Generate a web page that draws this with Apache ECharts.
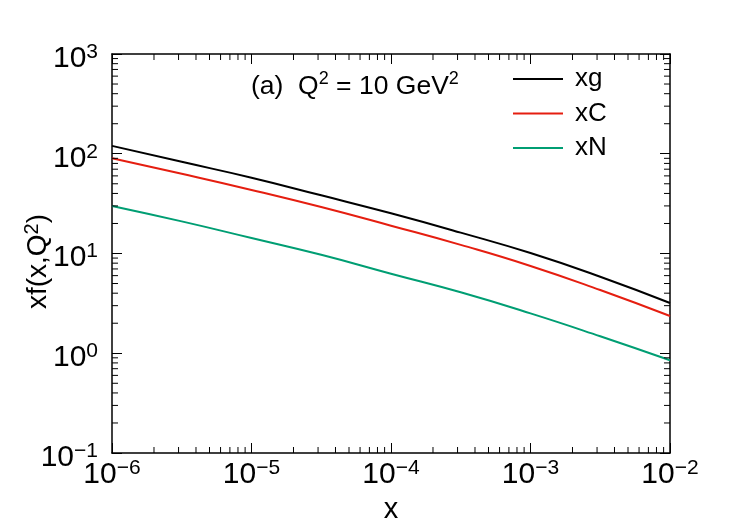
<!DOCTYPE html>
<html>
<head>
<meta charset="utf-8">
<script src="https://cdn.jsdelivr.net/npm/echarts@6/dist/echarts.min.js"></script>
<style>
html,body{margin:0;padding:0;background:#fff}
#main{width:747px;height:528px}
</style>
</head>
<body>
<div id="main"></div>
<script>
// values
var xVals = [1e-6, 3.16e-6, 1e-5, 3.16e-5, 1e-4, 3.16e-4, 1e-3, 3.16e-3, 1e-2];
var xg = [120, 83, 57.5, 38.3, 25.3, 16.2, 10.1, 5.85, 3.19];
var xC = [90, 63, 43.4, 29.2, 19, 12.2, 7.5, 4.3, 2.36];
var xN = [30, 21, 14.3, 9.7, 6.27, 4.08, 2.51, 1.48, 0.85];
var seriesNames = ['xg', 'xC', 'xN'];
var seriesColors = ['#000000', '#e51e10', '#009e73'];
var xRange = [1e-6, 1e-2];
var yRange = [1e-1, 1e3];

var FONT = 'Liberation Sans';

// minor ticks 2..9 per decade
var xMinor = [], yMinor = [];
for (var n = -6; n < -2; n++) for (var k = 2; k < 10; k++) xMinor.push(k * Math.pow(10, n));
for (var m = -1; m < 3; m++) for (var j = 2; j < 10; j++) yMinor.push(j * Math.pow(10, m));

function powLabel(v) {
    var e = Math.round(Math.log10(v));
    return '{b|10}{s|' + (e < 0 ? '\u2212' + (-e) : e) + '}';
}
var labelRich = {
    b: {fontSize: 30, fontFamily: FONT, color: '#000', lineHeight: 32, verticalAlign: 'bottom'},
    s: {fontSize: 21, fontFamily: FONT, color: '#000', lineHeight: 12, verticalAlign: 'top'}
};

function pairs(ys) {
    return xVals.map(function (x, i) { return [x, ys[i]]; });
}

var tick = {show: true, inside: true, length: 10, lineStyle: {color: '#000', width: 1}};
var line = {show: true, lineStyle: {color: '#000', width: 1.5}};

var chart = echarts.init(document.getElementById('main'));

var option = {
    animation: false,
    backgroundColor: '#fff',
    grid: {left: 112, right: 77, top: 54, bottom: 75, containLabel: false, outerBoundsMode: 'none'},
    legend: {
        data: seriesNames,
        orient: 'vertical',
        left: 513, top: 66, padding: 0,
        icon: 'rect',
        itemWidth: 50, itemHeight: 2, itemGap: 8.5,
        textStyle: {fontSize: 26, fontFamily: FONT, color: '#000', lineHeight: 24, padding: [0, 0, 0, 7]}
    },
    graphic: [{
        type: 'text', left: 251, top: 70,
        style: {
            text: '{t|(a)  Q}{s|2}{t| = 10 GeV}{s|2}',
            rich: {
                t: {fontSize: 26.5, fontFamily: FONT, fill: '#000', lineHeight: 30, verticalAlign: 'bottom'},
                s: {fontSize: 18, fontFamily: FONT, fill: '#000', lineHeight: 10, verticalAlign: 'top'}
            }
        }
    }],
    xAxis: [{
        type: 'log', logBase: 10, min: xRange[0], max: xRange[1],
        name: 'x', nameLocation: 'middle', nameGap: 42, nameMoveOverlap: false,
        nameTextStyle: {fontSize: 29, fontFamily: FONT, color: '#000'},
        axisLine: line, axisTick: tick,
        axisLabel: {formatter: powLabel, rich: labelRich, margin: 5},
        splitLine: {show: false}
    }, {
        type: 'log', logBase: 10, min: xRange[0], max: xRange[1], position: 'top',
        axisLine: line, axisTick: tick,
        axisLabel: {show: false},
        splitLine: {show: false}
    }],
    yAxis: [{
        type: 'log', logBase: 10, min: yRange[0], max: yRange[1],
        name: '{n|xf(x,Q}{ns|2}{n|)}', nameLocation: 'middle', nameGap: 60, nameMoveOverlap: false,
        nameTextStyle: {
            padding: [0, 16, 0, 0],
            rich: {
                n: {fontSize: 28, fontFamily: FONT, color: '#000', lineHeight: 30, verticalAlign: 'bottom'},
                ns: {fontSize: 20, fontFamily: FONT, color: '#000', lineHeight: 10, verticalAlign: 'top'}
            }
        },
        axisLine: line, axisTick: tick,
        axisLabel: {formatter: powLabel, rich: labelRich, margin: 14, padding: [7, 0, 0, 0]},
        splitLine: {show: false}
    }, {
        type: 'log', logBase: 10, min: yRange[0], max: yRange[1], position: 'right',
        axisLine: line, axisTick: tick,
        axisLabel: {show: false},
        splitLine: {show: false}
    }],
    series: [
        {name: 'xg', type: 'line', data: pairs(xg), smooth: true, symbol: 'none', lineStyle: {color: seriesColors[0], width: 2}, itemStyle: {color: seriesColors[0]}},
        {name: 'xC', type: 'line', data: pairs(xC), smooth: true, symbol: 'none', lineStyle: {color: seriesColors[1], width: 2}, itemStyle: {color: seriesColors[1]}},
        {name: 'xN', type: 'line', data: pairs(xN), smooth: true, symbol: 'none', lineStyle: {color: seriesColors[2], width: 2}, itemStyle: {color: seriesColors[2]}},
        {
            // minor ticks on all four sides
            type: 'custom', silent: true, clip: false, z: 5,
            xAxisIndex: 0, yAxisIndex: 0,
            data: [[1e-4, 1]],
            renderItem: function (params, api) {
                var p0 = api.coord([xRange[0], yRange[0]]);
                var p1 = api.coord([xRange[1], yRange[1]]);
                var l = p0[0], r = p1[0], b = p0[1], t = p1[1];
                var kids = [];
                function seg(x1, y1, x2, y2) {
                    kids.push({type: 'line', shape: {x1: x1, y1: y1, x2: x2, y2: y2}, style: {stroke: '#000', lineWidth: 1}});
                }
                xMinor.forEach(function (v) {
                    var px = api.coord([v, 1])[0];
                    seg(px, b, px, b - 6);
                    seg(px, t, px, t + 6);
                });
                yMinor.forEach(function (v) {
                    var py = api.coord([1e-4, v])[1];
                    seg(l, py, l + 6, py);
                    seg(r, py, r - 6, py);
                });
                return {type: 'group', children: kids};
            }
        }
    ]
};
chart.setOption(option);
</script>
</body>
</html>
